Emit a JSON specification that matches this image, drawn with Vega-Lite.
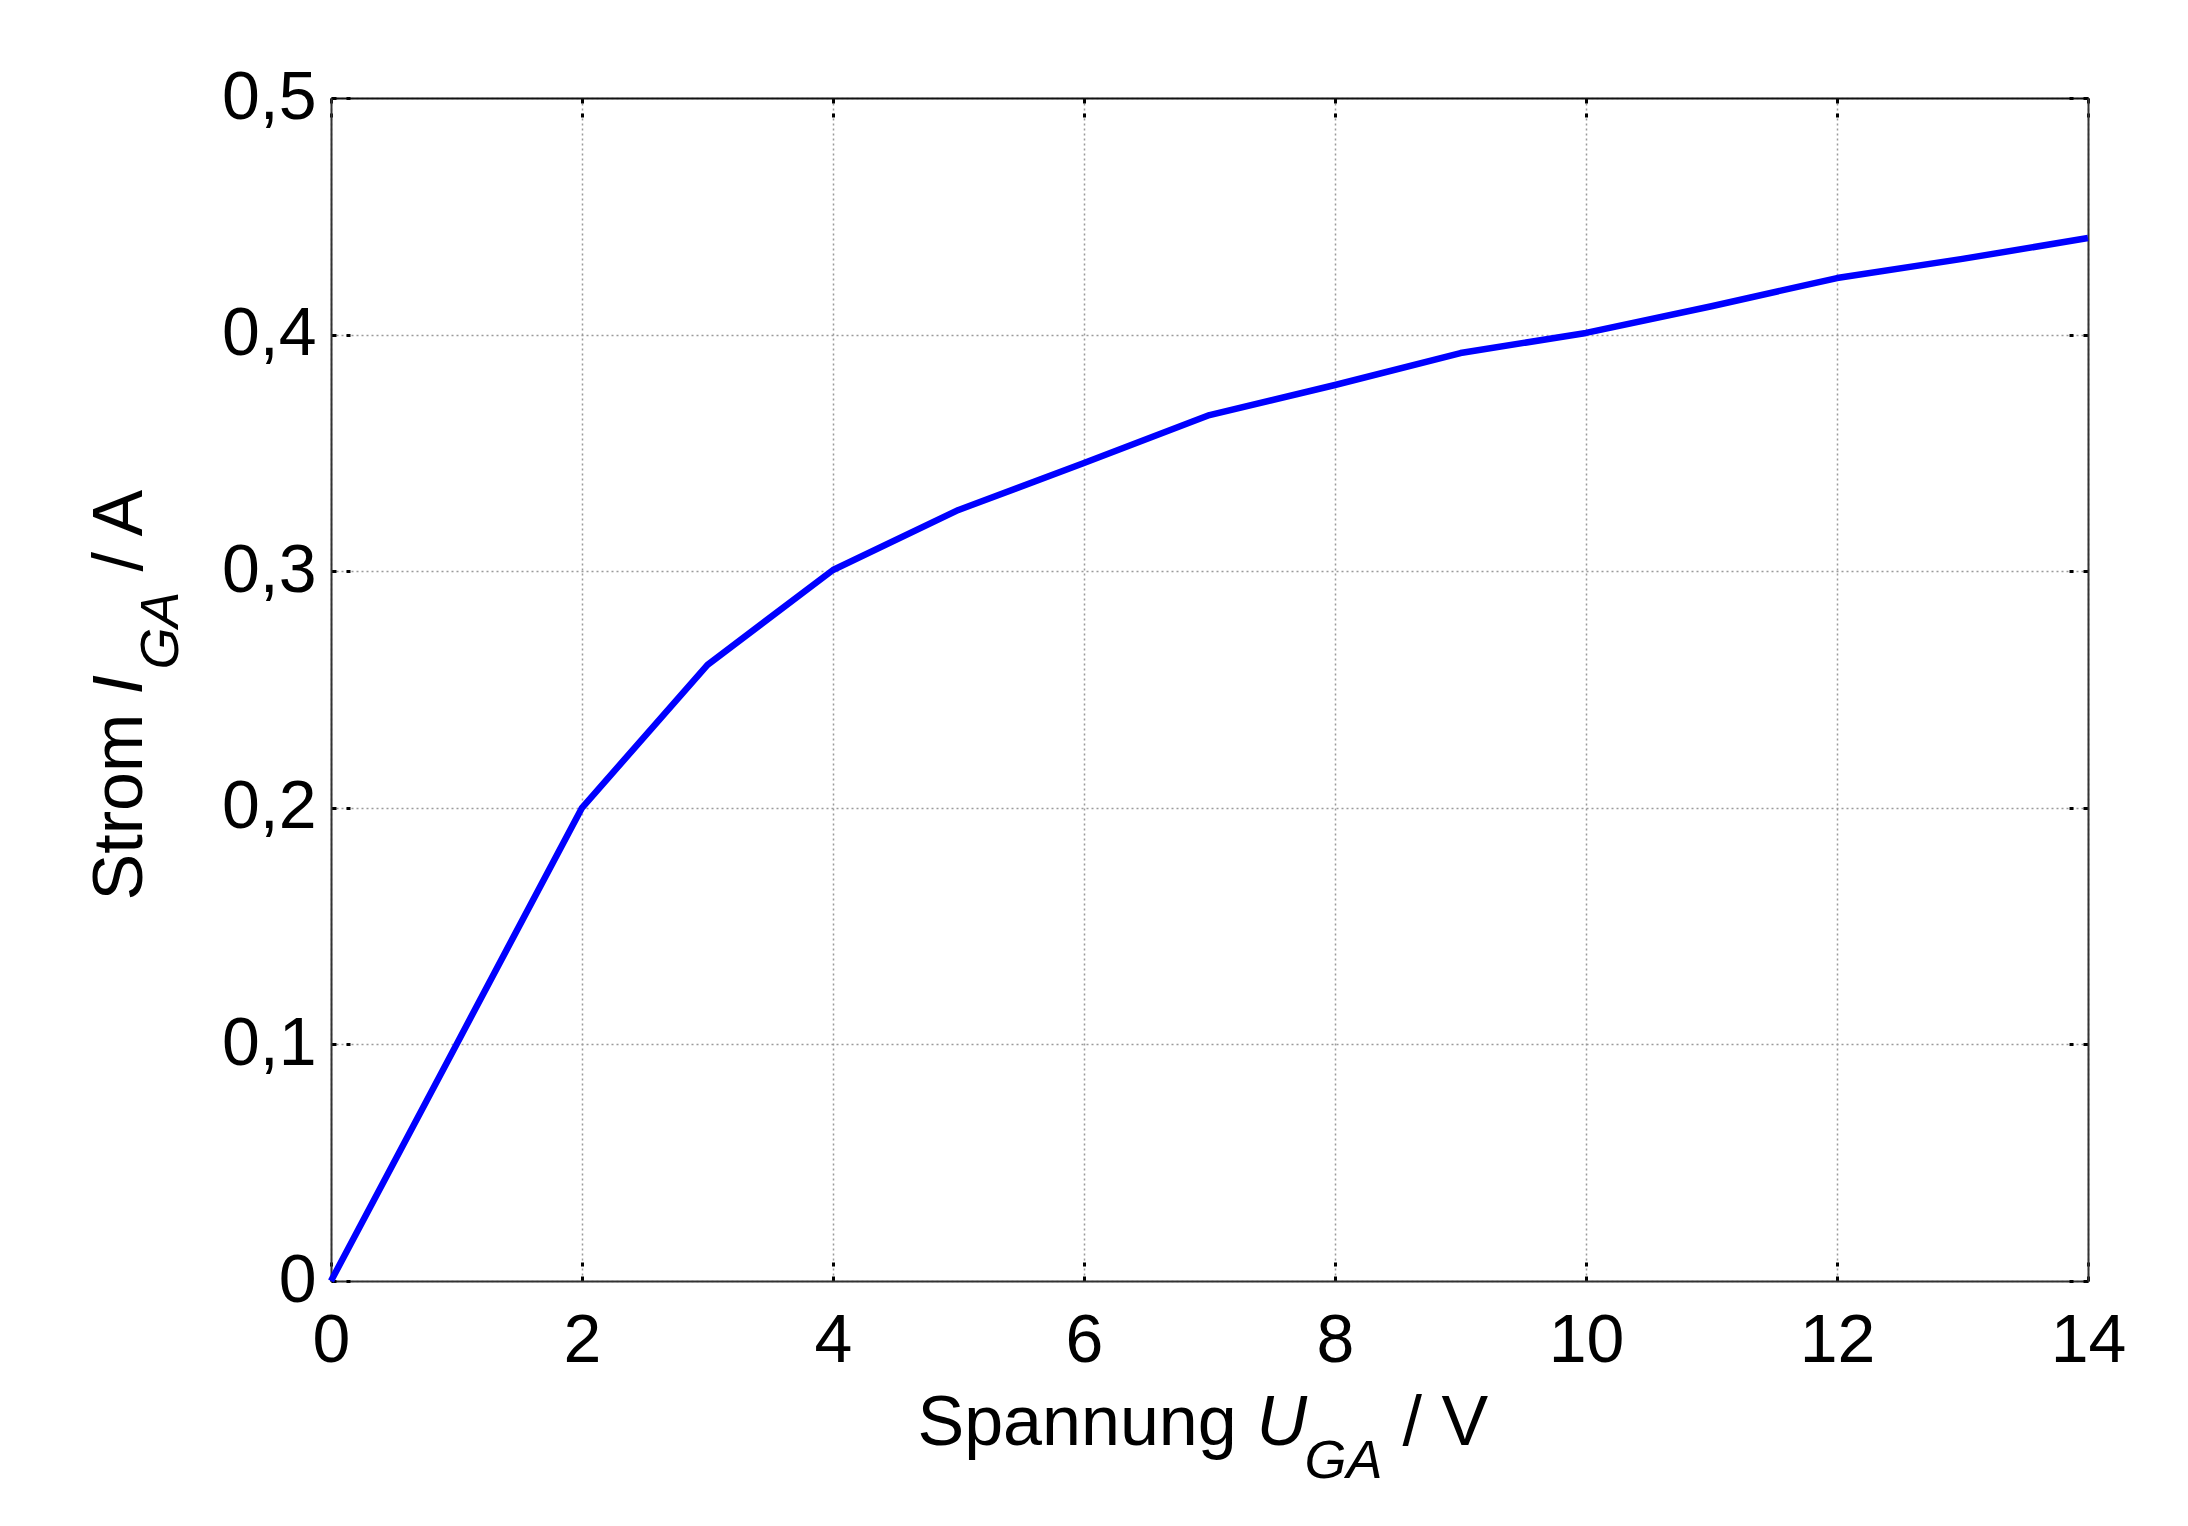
{
  "$schema": "https://vega.github.io/schema/vega-lite/v6.json",
  "autosize": {"type": "none"},
  "padding": {"left": 331, "top": 98, "right": 100, "bottom": 245},
  "width": 1757,
  "height": 1183,
  "background": "white",
  "config": {
    "view": {"stroke": null},
    "font": "Liberation Sans",
    "axis": {
      "labelFont": "Liberation Sans",
      "labelFontSize": 68,
      "labelColor": "#000000",
      "domainColor": "#333333",
      "domainWidth": 2,
      "tickColor": "#000000",
      "tickWidth": 3,
      "tickSize": -19,
      "tickDash": [5, 10],
      "gridColor": "#9a9a9a",
      "gridWidth": 1.5,
      "gridDash": [2, 3],
      "title": null
    }
  },
  "resolve": {"axis": {"x": "independent", "y": "independent"}},
  "layer": [
    {
      "data": {"name": "curve", "values": [
        {"U": 0, "I": 0},
        {"U": 1, "I": 0.1},
        {"U": 2, "I": 0.2},
        {"U": 3, "I": 0.2604},
        {"U": 4, "I": 0.3005},
        {"U": 5, "I": 0.3259},
        {"U": 6, "I": 0.3457},
        {"U": 7, "I": 0.366},
        {"U": 8, "I": 0.3787},
        {"U": 9, "I": 0.3922},
        {"U": 10, "I": 0.4007},
        {"U": 11, "I": 0.412},
        {"U": 12, "I": 0.4239},
        {"U": 13, "I": 0.432},
        {"U": 14, "I": 0.4408}
      ]},
      "mark": {"type": "line", "color": "#0000ff", "strokeWidth": 6.5, "strokeJoin": "round"},
      "encoding": {
        "x": {"field": "U", "type": "quantitative",
              "scale": {"domain": [0, 14], "nice": false, "zero": false},
              "axis": {"orient": "bottom", "values": [0, 2, 4, 6, 8, 10, 12, 14], "grid": true, "labelPadding": 45, "labelFlush": false, "labelOverlap": false}},
        "y": {"field": "I", "type": "quantitative",
              "scale": {"domain": [0, 0.5], "nice": false, "zero": false},
              "axis": {"orient": "left", "values": [0, 0.1, 0.2, 0.3, 0.4, 0.5], "grid": true, "labelPadding": 34, "labelFlush": false, "labelOverlap": false,
                       "labelExpr": "datum.value == 0 ? '0' : replace(format(datum.value, '.1f'), '.', ',')"}}
      }
    },
    {
      "data": {"name": "curve"},
      "mark": {"type": "line", "opacity": 0},
      "encoding": {
        "x": {"field": "U", "type": "quantitative",
              "axis": {"orient": "top", "values": [0, 2, 4, 6, 8, 10, 12, 14], "grid": false, "labels": false, "domainColor": "#111111"}},
        "y": {"field": "I", "type": "quantitative",
              "axis": {"orient": "right", "values": [0, 0.1, 0.2, 0.3, 0.4, 0.5], "grid": false, "labels": false}}
      }
    },
    {
      "data": {"values": [{"t": "Spannung"}]},
      "mark": {"type": "text", "align": "left", "baseline": "alphabetic", "fontSize": 70, "font": "Liberation Sans", "color": "#000000", "dx": -292, "dy": 164},
      "encoding": {
        "x": {"datum": 7, "type": "quantitative", "axis": null},
        "y": {"datum": 0, "type": "quantitative", "axis": null},
        "text": {"field": "t"}
      }
    },
    {
      "data": {"values": [{"t": "U"}]},
      "mark": {"type": "text", "align": "left", "baseline": "alphabetic", "fontSize": 70, "fontStyle": "italic", "font": "Liberation Sans", "color": "#000000", "dx": 47, "dy": 164},
      "encoding": {
        "x": {"datum": 7, "type": "quantitative", "axis": null},
        "y": {"datum": 0, "type": "quantitative", "axis": null},
        "text": {"field": "t"}
      }
    },
    {
      "data": {"values": [{"t": "GA"}]},
      "mark": {"type": "text", "align": "left", "baseline": "alphabetic", "fontSize": 54, "fontStyle": "italic", "font": "Liberation Sans", "color": "#000000", "dx": 95, "dy": 197},
      "encoding": {
        "x": {"datum": 7, "type": "quantitative", "axis": null},
        "y": {"datum": 0, "type": "quantitative", "axis": null},
        "text": {"field": "t"}
      }
    },
    {
      "data": {"values": [{"t": "/ V"}]},
      "mark": {"type": "text", "align": "left", "baseline": "alphabetic", "fontSize": 70, "font": "Liberation Sans", "color": "#000000", "dx": 193, "dy": 164},
      "encoding": {
        "x": {"datum": 7, "type": "quantitative", "axis": null},
        "y": {"datum": 0, "type": "quantitative", "axis": null},
        "text": {"field": "t"}
      }
    },
    {
      "data": {"values": [{"t": "Strom"}]},
      "mark": {"type": "text", "align": "left", "baseline": "alphabetic", "angle": 270, "fontSize": 70, "font": "Liberation Sans", "color": "#000000", "dx": -211, "dy": -189},
      "encoding": {
        "x": {"datum": 0, "type": "quantitative", "axis": null},
        "y": {"datum": 0.25, "type": "quantitative", "axis": null},
        "text": {"field": "t"}
      }
    },
    {
      "data": {"values": [{"t": "I"}]},
      "mark": {"type": "text", "align": "left", "baseline": "alphabetic", "angle": 270, "fontSize": 70, "fontStyle": "italic", "font": "Liberation Sans", "color": "#000000", "dx": -5, "dy": -189},
      "encoding": {
        "x": {"datum": 0, "type": "quantitative", "axis": null},
        "y": {"datum": 0.25, "type": "quantitative", "axis": null},
        "text": {"field": "t"}
      }
    },
    {
      "data": {"values": [{"t": "GA"}]},
      "mark": {"type": "text", "align": "left", "baseline": "alphabetic", "angle": 270, "fontSize": 54, "fontStyle": "italic", "font": "Liberation Sans", "color": "#000000", "dx": 20, "dy": -153},
      "encoding": {
        "x": {"datum": 0, "type": "quantitative", "axis": null},
        "y": {"datum": 0.25, "type": "quantitative", "axis": null},
        "text": {"field": "t"}
      }
    },
    {
      "data": {"values": [{"t": "/ A"}]},
      "mark": {"type": "text", "align": "left", "baseline": "alphabetic", "angle": 270, "fontSize": 70, "font": "Liberation Sans", "color": "#000000", "dx": 118, "dy": -189},
      "encoding": {
        "x": {"datum": 0, "type": "quantitative", "axis": null},
        "y": {"datum": 0.25, "type": "quantitative", "axis": null},
        "text": {"field": "t"}
      }
    }
  ]
}
